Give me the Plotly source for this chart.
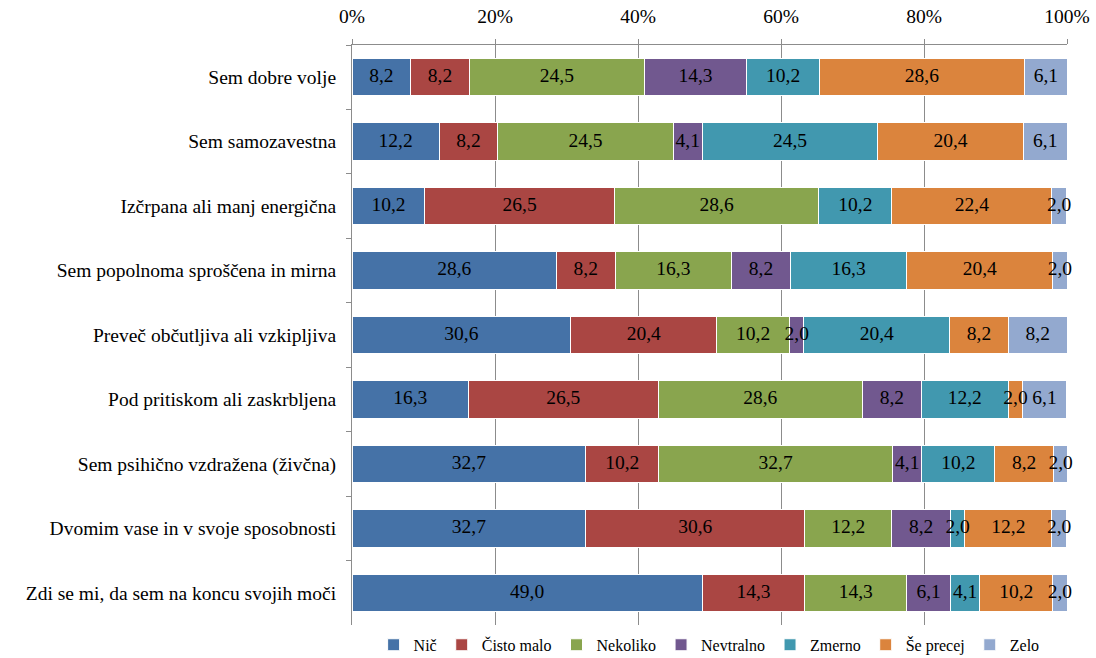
import plotly.graph_objects as go

categories = [
    "Sem dobre volje",
    "Sem samozavestna",
    "Izčrpana ali manj energična",
    "Sem popolnoma sproščena in mirna",
    "Preveč občutljiva ali vzkipljiva",
    "Pod pritiskom ali zaskrbljena",
    "Sem psihično vzdražena (živčna)",
    "Dvomim vase in v svoje sposobnosti",
    "Zdi se mi, da sem na koncu svojih moči",
]
series_names = ["Nič", "Čisto malo", "Nekoliko", "Nevtralno", "Zmerno", "Še precej", "Zelo"]

nic = [8.2, 12.2, 10.2, 28.6, 30.6, 16.3, 32.7, 32.7, 49.0]
cisto_malo = [8.2, 8.2, 26.5, 8.2, 20.4, 26.5, 10.2, 30.6, 14.3]
nekoliko = [24.5, 24.5, 28.6, 16.3, 10.2, 28.6, 32.7, 12.2, 14.3]
nevtralno = [14.3, 4.1, 0.0, 8.2, 2.0, 8.2, 4.1, 8.2, 6.1]
zmerno = [10.2, 24.5, 10.2, 16.3, 20.4, 12.2, 10.2, 2.0, 4.1]
se_precej = [28.6, 20.4, 22.4, 20.4, 8.2, 2.0, 8.2, 12.2, 10.2]
zelo = [6.1, 6.1, 2.0, 2.0, 8.2, 6.1, 2.0, 2.0, 2.0]

values = [nic, cisto_malo, nekoliko, nevtralno, zmerno, se_precej, zelo]
colors = ["#4572A7", "#AA4643", "#89A54E", "#71588F", "#4198AF", "#DB843D", "#93A9CF"]

FONT = "Times New Roman, Liberation Serif, DejaVu Serif, serif"
FS = 19.5

fig = go.Figure()
for name, vals, col in zip(series_names, values, colors):
    fig.add_trace(go.Bar(
        name=name, y=categories, x=vals, orientation="h",
        marker=dict(color=col, line=dict(color="white", width=1)),
        hoverinfo="x+y+name",
    ))

# data labels drawn on top of all bars
cum = [0.0] * len(categories)
for name, vals in zip(series_names, values):
    mids = [c + v / 2 for c, v in zip(cum, vals)]
    texts = [("%.1f" % v).replace(".", ",") if v > 0 else "" for v in vals]
    fig.add_trace(go.Scatter(
        x=mids, y=categories, mode="text", text=texts,
        textposition="middle center",
        textfont=dict(family=FONT, size=FS, color="black"),
        showlegend=False, hoverinfo="skip", cliponaxis=False,
    ))
    cum = [c + v for c, v in zip(cum, vals)]

fig.update_layout(
    barmode="stack",
    bargap=0.42,
    width=1096, height=658,
    margin=dict(l=352, r=29, t=45, b=33),
    paper_bgcolor="white", plot_bgcolor="white",
    font=dict(family=FONT, size=FS, color="black"),
    showlegend=True,
    legend=dict(orientation="h", x=0.647, xanchor="center", xref="container",
                y=0.02, yanchor="middle", yref="container",
                font=dict(family=FONT, size=16, color="black"),
                traceorder="normal", itemwidth=30, tracegroupgap=0),
)
fig.update_xaxes(
    side="top", range=[0, 100], dtick=20, ticksuffix="%",
    showgrid=True, gridcolor="#8C8C8C", gridwidth=1,
    showline=True, linecolor="#8C8C8C", linewidth=1,
    ticks="outside", ticklen=5, tickcolor="#8C8C8C",
    ticklabelstandoff=8, automargin=False,
    zeroline=False, tickfont=dict(family=FONT, size=FS, color="black"),
)
fig.update_yaxes(
    autorange="reversed", showline=True, linecolor="#8C8C8C", linewidth=1,
    ticks="outside", ticklen=5, tickcolor="#8C8C8C", tickson="boundaries",
    showgrid=False, ticklabelstandoff=11, automargin=False,
    tickfont=dict(family=FONT, size=FS, color="black"),
)

fig.write_html("out.html")
